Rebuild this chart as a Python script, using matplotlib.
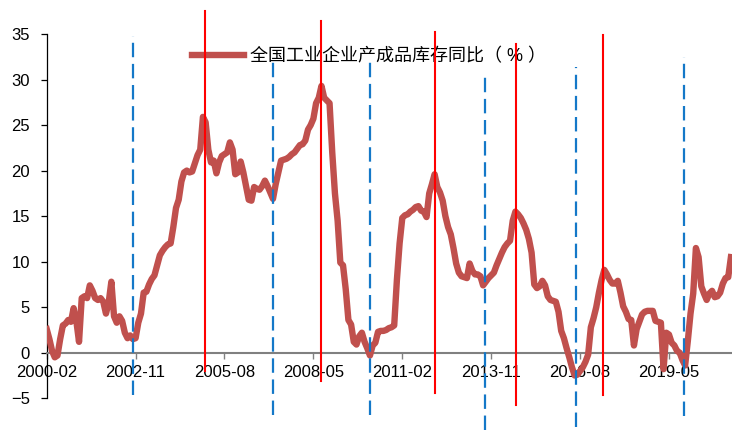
import matplotlib
matplotlib.use('Agg')
import matplotlib.pyplot as plt
import numpy as np

plt.rcParams['font.family'] = ['Liberation Sans', 'Noto Sans CJK SC', 'DejaVu Sans']

# monthly series, first point = 2000-02
start_year, start_month = 2000, 2
inventory_yoy = [
    2.6, 1.5, 0.2, -0.5, -0.3, 1.5, 3.0, 3.2, 3.6, 3.4,
    4.9, 3.5, 1.2, 6.0, 6.2, 6.0, 7.4, 6.8, 6.0, 5.8,
    6.0, 5.6, 4.3, 5.5, 7.8, 4.0, 3.3, 4.0, 3.5, 2.2,
    1.6, 1.9, 1.5, 1.6, 3.3, 4.3, 6.6, 6.7, 7.5, 8.1,
    8.5, 9.6, 10.7, 11.2, 11.6, 11.9, 12.0, 13.8, 15.9, 16.8,
    18.8, 19.8, 20.0, 19.8, 19.9, 20.8, 21.7, 22.3, 25.9, 25.3,
    22.3, 20.9, 21.1, 19.7, 20.9, 21.6, 21.8, 22.0, 23.1, 22.3,
    19.6, 19.8, 21.0, 19.8, 18.3, 16.8, 16.7, 18.2, 18.0, 17.9,
    18.3, 18.9, 18.3, 17.6, 16.9, 18.5, 19.8, 21.1, 21.2, 21.3,
    21.5, 21.8, 22.0, 22.4, 22.8, 22.9, 23.3, 24.5, 25.0, 25.7,
    27.4, 28.0, 29.3, 28.0, 27.7, 27.4, 22.0, 17.5, 14.5, 9.9,
    9.6, 7.0, 3.6, 3.1, 1.2, 0.9, 1.8, 2.2, 1.2, 0.5,
    -0.3, 0.8, 1.1, 2.3, 2.4, 2.4, 2.5, 2.7, 2.8, 3.0,
    8.0, 12.0, 14.8, 15.1, 15.2, 15.5, 15.7, 16.0, 16.1, 15.6,
    15.5, 14.9, 17.5, 18.5, 19.6, 18.2, 17.6, 16.7, 15.0, 13.8,
    13.0, 11.5, 9.8, 8.8, 8.4, 8.3, 8.2, 9.8, 9.0, 8.6,
    8.6, 8.4, 7.4, 7.8, 8.2, 8.5, 8.8, 9.6, 10.3, 11.0,
    11.6, 12.0, 12.3, 14.5, 15.5, 15.2, 14.8, 14.2, 13.5, 12.5,
    11.0, 7.5, 7.1, 7.3, 7.9, 7.4, 6.2, 5.8, 5.7, 5.6,
    4.5, 2.4, 1.6, 0.5, -0.5, -1.6, -2.5, -2.4, -2.0, -1.6,
    -1.0, -0.2, 2.8, 3.8, 5.0, 6.6, 8.0, 9.1, 8.6, 8.0,
    7.6, 7.6, 7.9, 6.6, 5.1, 4.5, 3.7, 3.6, 0.8, 2.6,
    3.4, 4.2, 4.5, 4.6, 4.6, 4.6, 3.5, 3.4, 3.3, -1.8,
    2.2, 2.0, 1.1, 0.8, 0.2, 0.0, -0.8, -1.4, 1.3, 4.3,
    6.5, 11.5, 10.5, 7.3, 6.5, 5.8, 6.5, 6.8, 6.1, 6.2,
    6.6, 7.6, 8.2, 8.3, 10.5,
]
series_name = '全国工业企业产成品库存同比（ % ）'

tick_labels = ['2000-02', '2002-11', '2005-08', '2008-05',
               '2011-02', '2013-11', '2016-08', '2019-05']
tick_months = [0, 33, 66, 99, 132, 165, 198, 231]

# marker lines: month position, top, bottom
blue_x = [32, 84, 120, 162.6, 196.4, 236.7]
blue_top = [34.8, 32.2, 32.2, 30.3, 31.4, 32.5]
blue_bot = [-4.6, -6.8, -6.8, -8.5, -8.1, -6.9]
red_x = [58.6, 101.8, 144, 174.1, 206.6]
red_top = [37.5, 36.4, 35.2, 33.9, 34.9]
red_bot = [-2.0, -3.1, -4.4, -5.7, -4.6]

months = np.arange(len(inventory_yoy))

fig = plt.figure(figsize=(7.32, 4.32), dpi=100)
ax = fig.add_axes([46.7 / 732, (432 - 398.3) / 432, (732 - 46.7) / 732, (398.3 - 34) / 432])

ax.plot(months, inventory_yoy, color='#C0504D', lw=4.6, label=series_name, zorder=3)

for x, t, b in zip(blue_x, blue_top, blue_bot):
    ax.plot([x, x], [b, t], color='#1478C8', lw=1.6, ls=(0, (6.5, 3)),
            clip_on=False, zorder=6)
for x, t, b in zip(red_x, red_top, red_bot):
    ax.plot([x, x], [b, t], color='#FF0000', lw=1.5, clip_on=False, zorder=6)

ax.set_xlim(0, 254.4)
ax.set_ylim(-5, 35)
ax.set_yticks(np.arange(-5, 36, 5))
ax.set_xticks(tick_months)
ax.set_xticklabels(tick_labels)

ax.spines['top'].set_visible(False)
ax.spines['right'].set_visible(False)
ax.spines['bottom'].set_position(('data', 0))
ax.spines['bottom'].set_color('#808080')
ax.spines['bottom'].set_linewidth(1.5)
ax.spines['left'].set_color('#000000')
ax.spines['left'].set_linewidth(0.9)
ax.tick_params(axis='x', colors='#808080', labelcolor='black', length=4,
               width=1, direction='out', pad=5, labelsize=12)
ax.tick_params(axis='y', length=4, width=0.9, pad=8, labelsize=12)

leg = ax.legend(loc='center left', bbox_to_anchor=(0.212, 0.937), frameon=False,
                borderpad=0, borderaxespad=0, handlelength=2.9, handletextpad=0.3,
                prop={'size': 13})

fig.savefig('out.png', dpi=100)
